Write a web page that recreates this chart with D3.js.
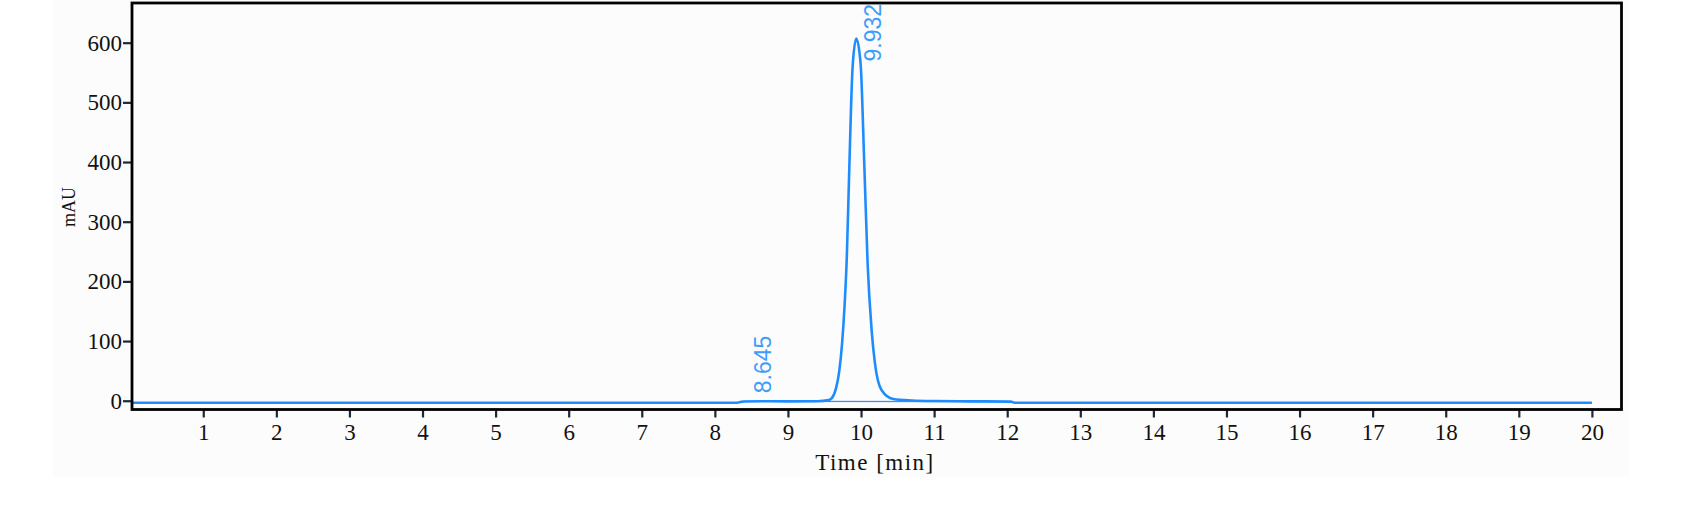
<!DOCTYPE html>
<html>
<head>
<meta charset="utf-8">
<script src="https://cdn.jsdelivr.net/npm/d3@7"></script>
<style>
  body { margin: 0; background: #ffffff; }
  svg { display: block; }
</style>
</head>
<body>
<svg id="chart" width="1697" height="506"></svg>
<script>
// chromatogram trace (min, mAU)
const times = [0.03, 8.30, 8.40, 8.645, 9.00, 9.40, 9.56, 9.62, 9.66, 9.70, 9.74, 9.775, 9.805, 9.835, 9.885, 9.935,
  9.994, 10.044, 10.09, 10.145, 10.19, 10.28, 10.44, 10.70, 11.00, 11.50, 12.05, 12.10, 20.0];
const signal = [-3.3, -3.3, -1.2, -0.8, -1.0, -0.8, 1, 8, 22, 48, 95, 160, 240, 370, 560, 607,
  565, 398, 230, 118, 63, 18, 3, 0.5, -0.5, -1.0, -1.5, -3.3, -3.3];

// integration baseline under the peaks
const baseTimes = [8.35, 12.08];
const baseValues = [-1.2, -1.6];

// peak labels
const peakTimes = [8.645, 9.932];
const peakHeights = [-0.8, 607];
const peakLabels = ["8.645", "9.932"];

const xTicks = d3.range(1, 21);
const yTicks = [0, 100, 200, 300, 400, 500, 600];

const svg = d3.select("#chart");

const plotLeft = 132, plotRight = 1621.5, plotTop = 3, plotBottom = 409.5;

const x = d3.scaleLinear().domain([0.025, 20.405]).range([plotLeft, plotRight]);
const y = d3.scaleLinear().domain([-14.7, 666.5]).range([plotBottom, plotTop]);

// grey panel behind the chart
svg.append("rect")
  .attr("x", 53).attr("y", 0)
  .attr("width", 1576).attr("height", 477)
  .attr("fill", "#fcfcfc");

svg.append("defs").append("clipPath").attr("id", "plot")
  .append("rect")
  .attr("x", plotLeft).attr("y", plotTop)
  .attr("width", plotRight - plotLeft).attr("height", plotBottom - plotTop);

// axes
const xAxis = svg.append("g")
  .attr("transform", `translate(0,${plotBottom})`)
  .call(d3.axisBottom(x).tickValues(xTicks).tickSize(8).tickPadding(6));

const yAxis = svg.append("g")
  .attr("transform", `translate(${plotLeft},0)`)
  .call(d3.axisLeft(y).tickValues(yTicks).tickSize(9).tickPadding(1));

[xAxis, yAxis].forEach(a => {
  a.select(".domain").remove();
  a.selectAll(".tick line").attr("stroke", "#1b2838").attr("stroke-width", 2.2);
  a.selectAll(".tick text")
    .attr("fill", "#111")
    .style("font-family", "'Liberation Serif', serif")
    .style("font-size", "23px");
});

// trace
const line = d3.line()
  .x((d, i) => x(times[i]))
  .y(d => y(d))
  .curve(d3.curveMonotoneX);

const plot = svg.append("g").attr("clip-path", "url(#plot)");

plot.append("path")
  .datum(baseValues)
  .attr("fill", "none")
  .attr("stroke", "#2b93ff")
  .attr("stroke-width", 1.2)
  .attr("d", d3.line().x((d, i) => x(baseTimes[i])).y(d => y(d)));

plot.append("path")
  .datum(signal)
  .attr("fill", "none")
  .attr("stroke", "#1e8cff")
  .attr("stroke-width", 2.6)
  .attr("stroke-linejoin", "round")
  .attr("d", line);

// frame
svg.append("rect")
  .attr("x", plotLeft).attr("y", plotTop)
  .attr("width", plotRight - plotLeft).attr("height", plotBottom - plotTop)
  .attr("fill", "none")
  .attr("stroke", "#000")
  .attr("stroke-width", 2.8);

// peak labels, rotated; a label that would run off the top moves beside the apex
peakLabels.forEach((label, i) => {
  const px = x(peakTimes[i]);
  const py = y(peakHeights[i]);
  const tall = py - 70 < 0;
  const lx = tall ? px + 25 : px + 9;
  const ly = tall ? py + 23 : py - 8;
  svg.append("text")
    .attr("transform", `translate(${lx},${ly}) rotate(-90)`)
    .attr("fill", "#3f9cfb")
    .style("font-family", "'Liberation Sans', sans-serif")
    .style("font-size", "23px")
    .text(label);
});

// axis titles
svg.append("text")
  .attr("transform", `translate(75,207) rotate(-90)`)
  .attr("text-anchor", "middle")
  .attr("fill", "#111")
  .style("font-family", "'Liberation Serif', serif")
  .style("font-size", "18px")
  .text("mAU");

svg.append("text")
  .attr("x", 875).attr("y", 470)
  .attr("text-anchor", "middle")
  .attr("fill", "#111")
  .style("font-family", "'Liberation Serif', serif")
  .style("font-size", "23px")
  .style("letter-spacing", "1.5px")
  .text("Time [min]");
</script>
</body>
</html>
